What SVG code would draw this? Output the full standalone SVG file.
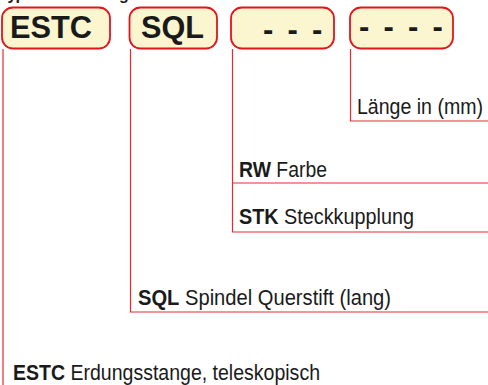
<svg xmlns="http://www.w3.org/2000/svg" width="488" height="385" viewBox="0 0 488 385">
<style>
.box{fill:#FBF6CF;stroke:#E3141D;stroke-width:1.8}
.code{font-family:"Liberation Sans",Arial,sans-serif;font-weight:bold;font-size:32px;fill:#1a1a1a}
.dash{font-family:"Liberation Sans",Arial,sans-serif;font-weight:bold;font-size:31px;fill:#1a1a1a;letter-spacing:2.8px}
.lbl{font-family:"Liberation Sans",Arial,sans-serif;font-size:21.5px;fill:#1a1a1a}
.lbl tspan.b{font-weight:bold}
.conn{fill:none;stroke:#E52A33;stroke-width:1.2}
.title{font-family:"Liberation Sans",Arial,sans-serif;font-weight:bold;font-size:16px;fill:#1a1a1a}
</style>
<rect width="488" height="385" fill="#fff"/>
<text class="title" x="0" y="-0.5" letter-spacing="-1">Typenbezeichnung</text>
<g id="connectors">
<polyline class="conn" points="3,49 3,385"/>
<polyline class="conn" points="130.5,49 130.5,312 488,312"/>
<polyline class="conn" points="232.5,49 232.5,232 488,232"/>
<polyline class="conn" points="232.5,183 488,183"/>
<polyline class="conn" points="350.5,49 350.5,121 488,121"/>
</g>
<g id="node-estc">
<rect class="box" x="2" y="7.5" width="108" height="41" rx="11"/>
<text class="code" x="10" y="38" textLength="82" lengthAdjust="spacingAndGlyphs">ESTC</text>
</g>
<g id="node-sql">
<rect class="box" x="129.5" y="7.5" width="87.5" height="41" rx="11"/>
<text class="code" x="141" y="38" textLength="63" lengthAdjust="spacingAndGlyphs">SQL</text>
</g>
<g id="node-farbe">
<rect class="box" x="231" y="7.5" width="103" height="41" rx="11"/>
<text class="dash" x="263" y="40">- - -</text>
</g>
<g id="node-laenge">
<rect class="box" x="350" y="7.5" width="103" height="41" rx="11"/>
<text class="dash" x="359" y="37">- - - -</text>
</g>
<g id="label-laenge"><text class="lbl" x="357" y="114" textLength="126" lengthAdjust="spacingAndGlyphs">Länge in (mm)</text></g>
<g id="label-rw"><text class="lbl" x="239" y="177" textLength="88" lengthAdjust="spacingAndGlyphs"><tspan class="b">RW</tspan> Farbe</text></g>
<g id="label-stk"><text class="lbl" x="239" y="224" textLength="175" lengthAdjust="spacingAndGlyphs"><tspan class="b">STK</tspan> Steckkupplung</text></g>
<g id="label-sql"><text class="lbl" x="138" y="305" textLength="253" lengthAdjust="spacingAndGlyphs"><tspan class="b">SQL</tspan> Spindel Querstift (lang)</text></g>
<g id="label-estc"><text class="lbl" x="13" y="380" textLength="307" lengthAdjust="spacingAndGlyphs"><tspan class="b">ESTC</tspan> Erdungsstange, teleskopisch</text></g>
</svg>
